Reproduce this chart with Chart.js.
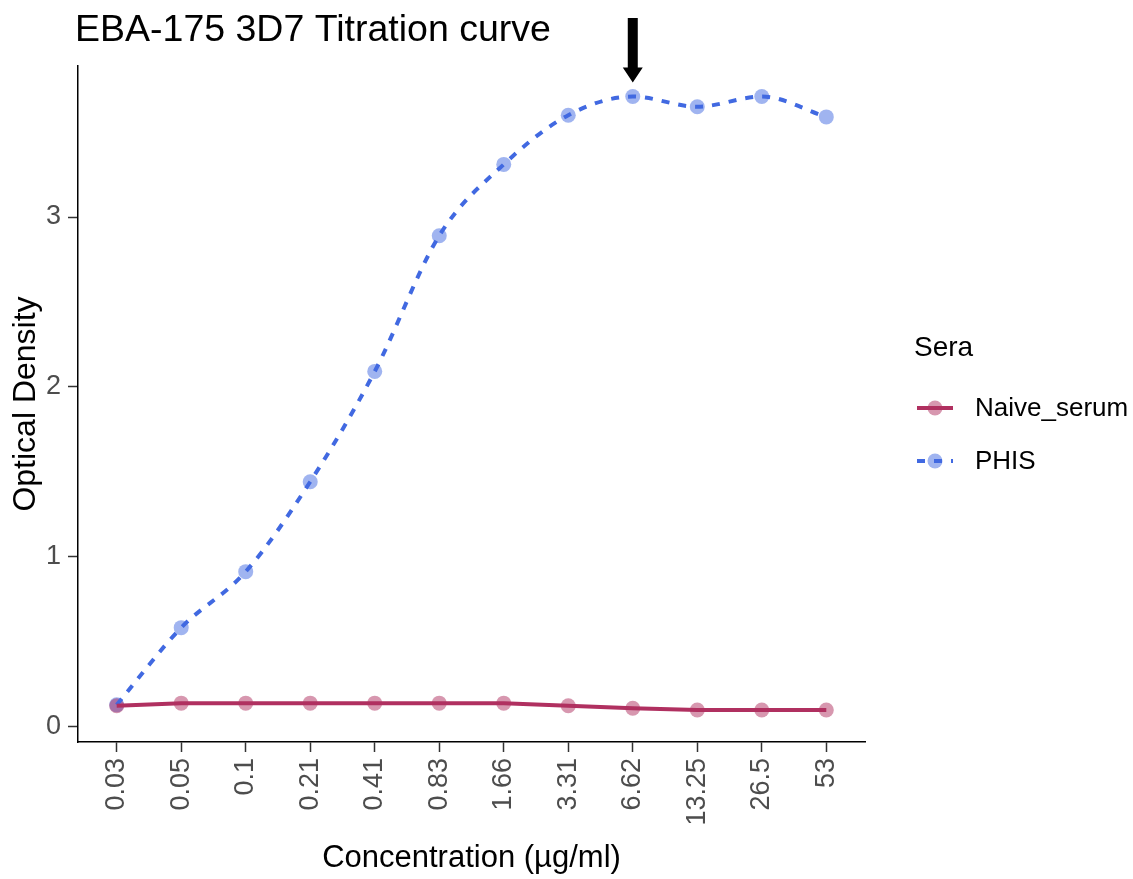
<!DOCTYPE html>
<html>
<head>
<meta charset="utf-8">
<script src="https://cdn.jsdelivr.net/npm/chart.js@4/dist/chart.umd.min.js"></script>
<style>
  html, body { margin: 0; padding: 0; background: #fff; }
  #wrap { width: 1133px; height: 879px; position: relative; }
</style>
</head>
<body>
<div id="wrap"><canvas id="titrationChart"></canvas></div>
<script>
// --- DATA ---
const concentrations = ['0.03', '0.05', '0.1', '0.21', '0.41', '0.83', '1.66', '3.31', '6.62', '13.25', '26.5', '53'];
const naiveSerum = [0.12, 0.135, 0.135, 0.135, 0.135, 0.135, 0.135, 0.12, 0.105, 0.095, 0.095, 0.095];
const phis = [0.125, 0.58, 0.91, 1.44, 2.09, 2.89, 3.31, 3.60, 3.71, 3.65, 3.71, 3.59];
const yTicks = [0, 1, 2, 3];
const seriesNames = ['Naive_serum', 'PHIS'];
const arrowIndex = 8; // 6.62 µg/ml

const FONT = '"Liberation Sans", Arial, Helvetica, sans-serif';
const naiveColor = '#B03060';
const naivePoint = 'rgba(176, 48, 96, 0.5)';
const phisColor = '#4169E1';
const phisPoint = 'rgba(65, 105, 225, 0.5)';
const phisDash = [8, 9];

const toXY = arr => arr.map((v, i) => ({ x: i, y: v }));

// --- title, arrow and legend drawn on the canvas ---
const extrasPlugin = {
    id: 'extras',
    afterDraw(chart) {
        const ctx = chart.ctx;
        const xs = chart.scales.x, ys = chart.scales.y;
        ctx.save();

        // title
        ctx.fillStyle = '#000';
        ctx.font = `37.5px ${FONT}`;
        ctx.textAlign = 'left';
        ctx.textBaseline = 'middle';
        ctx.fillText('EBA-175 3D7 Titration curve', 75, 31);

        // arrow pointing at the 6.62 point
        const ax = xs.getPixelForValue(arrowIndex);
        const tipY = ys.getPixelForValue(phis[arrowIndex]) - 14;
        ctx.beginPath();
        ctx.moveTo(ax - 5, 18);
        ctx.lineTo(ax + 5, 18);
        ctx.lineTo(ax + 5, tipY - 15);
        ctx.lineTo(ax + 10, tipY - 15);
        ctx.lineTo(ax, tipY);
        ctx.lineTo(ax - 10, tipY - 15);
        ctx.lineTo(ax - 5, tipY - 15);
        ctx.closePath();
        ctx.fill();

        // legend
        ctx.font = `28px ${FONT}`;
        ctx.fillText('Sera', 914, 348);

        const keys = [
            { y: 408, line: naiveColor, pt: naivePoint, dash: [], w: 4 },
            { y: 461, line: phisColor, pt: phisPoint, dash: phisDash, w: 4 }
        ];
        keys.forEach((k, i) => {
            ctx.save();
            ctx.beginPath();
            ctx.fillStyle = k.pt;
            ctx.arc(935, k.y, 7.5, 0, Math.PI * 2);
            ctx.fill();
            ctx.strokeStyle = k.line;
            ctx.lineWidth = k.w;
            ctx.setLineDash(k.dash);
            ctx.beginPath();
            ctx.moveTo(917, k.y);
            ctx.lineTo(953, k.y);
            ctx.stroke();
            ctx.restore();
            ctx.fillStyle = '#000';
            ctx.font = `26px ${FONT}`;
            ctx.fillText(seriesNames[i], 975, k.y + 1);
        });
        ctx.restore();
    }
};

document.addEventListener('DOMContentLoaded', () => {
    const ctx = document.getElementById('titrationChart').getContext('2d');
    new Chart(ctx, {
        type: 'line',
        data: {
            datasets: [
                // lines sit on top of the points, like the ggplot original
                {
                    label: seriesNames[0], data: toXY(naiveSerum), order: 1,
                    borderColor: naiveColor, borderWidth: 4, pointRadius: 0, tension: 0
                },
                {
                    label: seriesNames[1], data: toXY(phis), order: 1,
                    borderColor: phisColor, borderWidth: 4, borderDash: phisDash,
                    pointRadius: 0, cubicInterpolationMode: 'monotone'
                },
                {
                    label: seriesNames[0] + ' points', data: toXY(naiveSerum), order: 2,
                    showLine: false, pointRadius: 7.5, pointBorderWidth: 0,
                    pointBackgroundColor: naivePoint
                },
                {
                    label: seriesNames[1] + ' points', data: toXY(phis), order: 2,
                    showLine: false, pointRadius: 7.5, pointBorderWidth: 0,
                    pointBackgroundColor: phisPoint
                }
            ]
        },
        options: {
            responsive: true,
            maintainAspectRatio: false,
            animation: false,
            layout: { padding: { top: 66, right: 268, bottom: 0, left: 0 } },
            plugins: { legend: { display: false }, tooltip: { enabled: false } },
            scales: {
                x: {
                    type: 'linear',
                    min: -0.6,
                    max: concentrations.length - 0.4,
                    afterFit: s => { s.height = 137; },
                    border: { display: true, color: '#000', width: 1.5 },
                    grid: { drawOnChartArea: false, drawTicks: true, tickLength: 10, tickColor: '#333', tickWidth: 1.5 },
                    ticks: {
                        includeBounds: false,
                        stepSize: 1,
                        autoSkip: false,
                        maxRotation: 90,
                        minRotation: 90,
                        padding: 6,
                        color: '#4D4D4D',
                        font: { family: FONT, size: 27 },
                        callback: v => concentrations[v] ?? ''
                    },
                    title: {
                        display: true,
                        text: 'Concentration (µg/ml)',
                        color: '#000',
                        font: { family: FONT, size: 31 },
                        padding: { top: 0, bottom: 2 }
                    }
                },
                y: {
                    min: -0.094,
                    max: 3.89,
                    afterFit: s => { s.width = 78; },
                    border: { display: true, color: '#000', width: 1.5 },
                    grid: { drawOnChartArea: false, drawTicks: true, tickLength: 10, tickColor: '#333', tickWidth: 1.5 },
                    afterBuildTicks: s => { s.ticks = yTicks.map(v => ({ value: v })); },
                    ticks: {
                        padding: 7,
                        color: '#4D4D4D',
                        font: { family: FONT, size: 27 }
                    },
                    title: {
                        display: true,
                        text: 'Optical Density',
                        color: '#000',
                        font: { family: FONT, size: 32 },
                        padding: { top: 7, bottom: 0 }
                    }
                }
            }
        },
        plugins: [extrasPlugin]
    });
});
</script>
</body>
</html>
